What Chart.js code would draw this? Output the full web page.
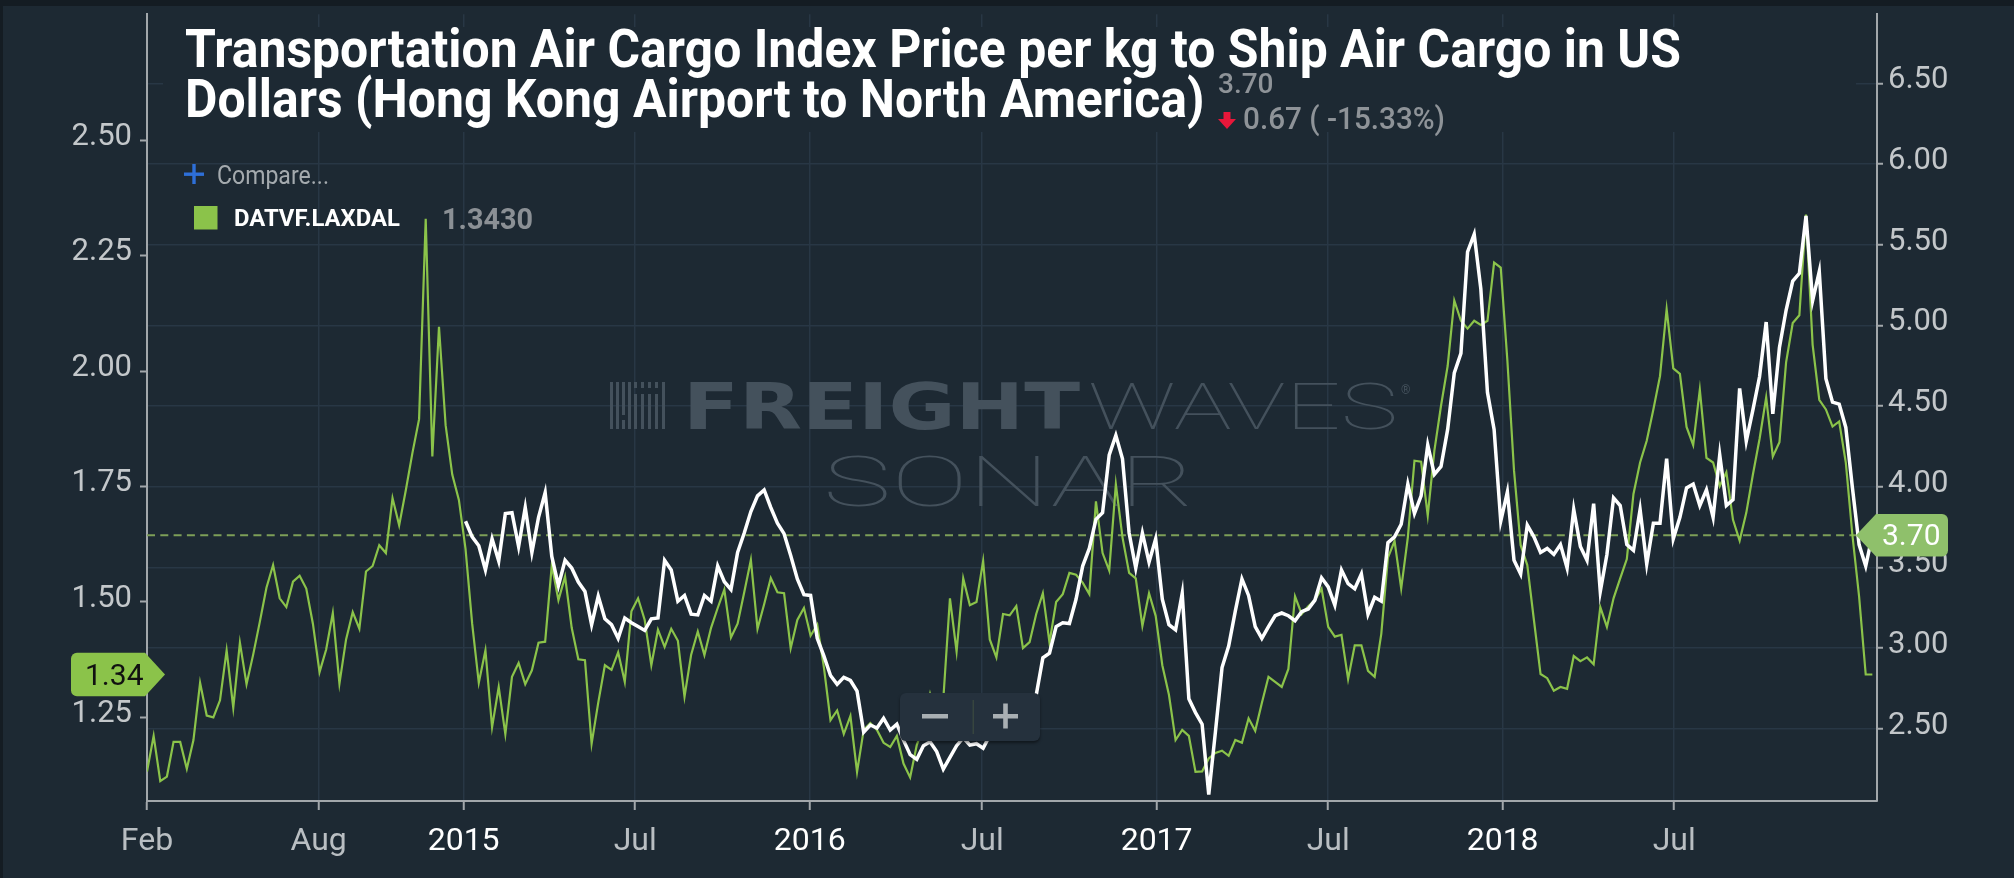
<!DOCTYPE html>
<html>
<head>
<meta charset="utf-8">
<title>Transportation Air Cargo Index</title>
<script src="https://cdn.jsdelivr.net/npm/chart.js"></script>
<style>
  html, body { margin: 0; padding: 0; background: #1d2933; }
  #chart { display: block; }
</style>
</head>
<body>
<canvas id="chart" width="2014" height="878"></canvas>
<script>
// weekly series, first value on the start date
const greenStart = '2014-02-01';
const whiteStart = '2015-01-03';

// DATVF.LAXDAL (left axis)
const green = [
  1.133, 1.210, 1.112, 1.122, 1.197, 1.197, 1.139, 1.201, 1.325, 1.254,
  1.250, 1.287, 1.395, 1.271, 1.412, 1.322, 1.386, 1.457, 1.531, 1.580,
  1.508, 1.489, 1.544, 1.557, 1.529, 1.453, 1.348, 1.397, 1.476, 1.323,
  1.419, 1.478, 1.442, 1.566, 1.578, 1.623, 1.606, 1.725, 1.666, 1.742,
  1.823, 1.896, 2.330, 1.815, 2.096, 1.883, 1.776, 1.721, 1.615, 1.453,
  1.325, 1.395, 1.229, 1.316, 1.214, 1.338, 1.368, 1.322, 1.352, 1.412,
  1.414, 1.580, 1.504, 1.555, 1.444, 1.376, 1.374, 1.193, 1.282, 1.363,
  1.353, 1.391, 1.327, 1.480, 1.508, 1.461, 1.363, 1.440, 1.403, 1.442,
  1.416, 1.295, 1.386, 1.436, 1.385, 1.444, 1.487, 1.527, 1.423, 1.453,
  1.521, 1.591, 1.442, 1.495, 1.552, 1.521, 1.519, 1.400, 1.461, 1.487,
  1.427, 1.451, 1.359, 1.244, 1.265, 1.214, 1.253, 1.132, 1.223, 1.238,
  1.223, 1.195, 1.186, 1.210, 1.150, 1.120, 1.190, 1.230, 1.300, 1.240,
  1.290, 1.508, 1.393, 1.551, 1.493, 1.500, 1.589, 1.419, 1.380, 1.474,
  1.471, 1.491, 1.400, 1.413, 1.474, 1.519, 1.412, 1.500, 1.517, 1.563,
  1.559, 1.542, 1.517, 1.718, 1.606, 1.568, 1.755, 1.640, 1.563, 1.551,
  1.448, 1.519, 1.470, 1.363, 1.299, 1.201, 1.223, 1.210, 1.132, 1.133,
  1.161, 1.173, 1.178, 1.167, 1.201, 1.195, 1.248, 1.221, 1.281, 1.338,
  1.327, 1.316, 1.355, 1.512, 1.474, 1.491, 1.504, 1.529, 1.446, 1.425,
  1.429, 1.333, 1.406, 1.406, 1.351, 1.338, 1.431, 1.596, 1.632, 1.529,
  1.640, 1.806, 1.804, 1.687, 1.828, 1.925, 2.011, 2.153, 2.109, 2.092,
  2.109, 2.100, 2.109, 2.235, 2.224, 2.023, 1.785, 1.623, 1.580, 1.461,
  1.344, 1.335, 1.308, 1.316, 1.312, 1.383, 1.372, 1.380, 1.365, 1.489,
  1.446, 1.508, 1.551, 1.593, 1.734, 1.802, 1.849, 1.917, 1.989, 2.134,
  2.006, 1.994, 1.879, 1.840, 1.960, 1.812, 1.802, 1.751, 1.781, 1.678,
  1.633, 1.693, 1.776, 1.853, 1.943, 1.815, 1.846, 2.019, 2.104, 2.121,
  2.339, 2.057, 1.938, 1.917, 1.880, 1.891, 1.802, 1.644, 1.512, 1.343,
  1.343
];

// Air Cargo Index, HKG to North America (right axis)
const white = [
  3.787, 3.690, 3.635, 3.485, 3.678, 3.540, 3.835, 3.840, 3.630, 3.872,
  3.593, 3.811, 3.964, 3.569, 3.388, 3.545, 3.497, 3.410, 3.351, 3.146,
  3.322, 3.182, 3.146, 3.061, 3.187, 3.158, 3.134, 3.110, 3.182, 3.187,
  3.545, 3.485, 3.291, 3.327, 3.211, 3.206, 3.327, 3.291, 3.509, 3.412,
  3.364, 3.593, 3.714, 3.847, 3.944, 3.981, 3.872, 3.775, 3.710, 3.574,
  3.429, 3.332, 3.327, 3.061, 2.952, 2.831, 2.776, 2.819, 2.800, 2.734,
  2.480, 2.524, 2.505, 2.565, 2.493, 2.529, 2.430, 2.340, 2.311, 2.396,
  2.420, 2.359, 2.251, 2.323, 2.396, 2.444, 2.400, 2.408, 2.380, 2.460,
  2.520, 2.550, 2.600, 2.630, 2.660, 2.700, 2.710, 2.940, 2.969, 3.134,
  3.158, 3.153, 3.303, 3.509, 3.618, 3.799, 3.840, 4.198, 4.319, 4.174,
  3.714, 3.497, 3.714, 3.533, 3.678, 3.303, 3.146, 3.114, 3.339, 2.686,
  2.601, 2.529, 2.093, 2.480, 2.880, 3.013, 3.230, 3.429, 3.327, 3.134,
  3.061, 3.134, 3.201, 3.218, 3.201, 3.170, 3.226, 3.243, 3.298, 3.436,
  3.380, 3.267, 3.485, 3.400, 3.368, 3.460, 3.211, 3.315, 3.291, 3.654,
  3.690, 3.768, 4.017, 3.835, 3.944, 4.259, 4.077, 4.126, 4.356, 4.706,
  4.827, 5.456, 5.565, 5.227, 4.585, 4.356, 3.787, 3.968, 3.545, 3.460,
  3.763, 3.690, 3.593, 3.618, 3.581, 3.642, 3.497, 3.860, 3.630, 3.545,
  3.896, 3.351, 3.581, 3.932, 3.884, 3.642, 3.606, 3.860, 3.521, 3.775,
  3.775, 4.174, 3.678, 3.811, 3.993, 4.017, 3.884, 3.981, 3.811, 4.198,
  3.884, 3.920, 4.610, 4.283, 4.477, 4.682, 5.021, 4.452, 4.864, 5.094,
  5.275, 5.323, 5.679, 5.154, 5.335, 4.670, 4.525, 4.513, 4.368, 3.993,
  3.642, 3.509, 3.700
];

const tickDates = ['2014-02-01', '2014-08-01', '2015-01-01', '2015-07-01', '2016-01-01',
  '2016-07-01', '2017-01-01', '2017-07-01', '2018-01-01', '2018-07-01'];
const tickLabels = ['Feb', 'Aug', '2015', 'Jul', '2016', 'Jul', '2017', 'Jul', '2018', 'Jul'];
const leftTicks = [1.25, 1.50, 1.75, 2.00, 2.25, 2.50];
const rightTicks = [2.50, 3.00, 3.50, 4.00, 4.50, 5.00, 5.50, 6.00, 6.50];

const title = ['Transportation Air Cargo Index Price per kg to Ship Air Cargo in US',
  'Dollars (Hong Kong Airport to North America)'];
const changeText = '0.67 ( -15.33%)';
const seriesName = 'DATVF.LAXDAL';

const bg = '#1d2933';
const gridColor = '#283745';
const axisColor = '#a2a7ab';
const greenColor = '#8bc34a';

const DAY = 86400000;
function week(date) {
  return (Date.parse(date) - Date.parse(greenStart)) / (7 * DAY);
}

function fitText(ctx, text, x, y, width) {
  const w = ctx.measureText(text).width;
  ctx.save();
  ctx.translate(x, y);
  ctx.scale(width / w, 1);
  ctx.fillText(text, 0, 0);
  ctx.restore();
}

function roundRect(ctx, x, y, w, h, r) {
  ctx.beginPath();
  ctx.moveTo(x + r, y);
  ctx.arcTo(x + w, y, x + w, y + h, r);
  ctx.arcTo(x + w, y + h, x, y + h, r);
  ctx.arcTo(x, y + h, x, y, r);
  ctx.arcTo(x, y, x + w, y, r);
  ctx.closePath();
}

const decor = {
  id: 'decor',
  beforeDraw(chart) {
    const ctx = chart.ctx;
    ctx.save();
    ctx.fillStyle = bg;
    ctx.fillRect(0, 0, chart.width, chart.height);
    ctx.fillStyle = '#141c23';
    ctx.fillRect(0, 0, chart.width, 6);
    ctx.fillRect(0, 0, 3, chart.height);
    ctx.restore();
  },
  beforeDatasetsDraw(chart) {
    const ctx = chart.ctx;
    const area = chart.chartArea;
    ctx.save();
    // title background hides the grid behind it
    ctx.fillStyle = bg;
    ctx.fillRect(163, 27, 1693, 105);

    // watermark
    ctx.fillStyle = '#44515c';
    const bars = [[610, 382, 429], [616, 382, 429], [622, 382, 415], [622, 420, 429], [628, 382, 429],
      [634, 382, 388], [634, 394, 429], [641, 382, 388], [641, 394, 429],
      [648, 382, 388], [648, 394, 429], [655, 382, 388], [655, 394, 429], [662, 382, 429]];
    bars.forEach(b => ctx.fillRect(b[0], b[1], 3, b[2] - b[1]));
    ctx.textBaseline = 'alphabetic';
    ctx.font = 'bold 64px "DejaVu Sans"';
    fitText(ctx, 'FREIGHT', 683, 429, 397);
    ctx.font = '100 65px Roboto';
    fitText(ctx, 'WAVES', 1088, 429, 310);
    ctx.font = '100 71px Roboto';
    fitText(ctx, 'SONAR', 823, 506, 372);
    ctx.font = '12px Roboto';
    ctx.fillText('®', 1401, 394);

    // last value line of the index
    const yLast = chart.scales.yR.getPixelForValue(white[white.length - 1]);
    ctx.strokeStyle = '#7d9f58';
    ctx.lineWidth = 2;
    ctx.setLineDash([8, 5.3]);
    ctx.beginPath();
    ctx.moveTo(area.left, yLast);
    ctx.lineTo(area.right - 20, yLast);
    ctx.stroke();
    ctx.restore();
  },
  afterDraw(chart) {
    const ctx = chart.ctx;
    const area = chart.chartArea;
    const lastGreen = green[green.length - 1];
    const lastWhite = white[white.length - 1];
    ctx.save();

    // left tag
    let y = chart.scales.yL.getPixelForValue(lastGreen);
    ctx.fillStyle = greenColor;
    ctx.beginPath();
    ctx.moveTo(area.left - 2, y - 21.7);
    ctx.lineTo(area.left + 18, y);
    ctx.lineTo(area.left - 2, y + 21.7);
    ctx.lineTo(77, y + 21.7);
    ctx.arcTo(71, y + 21.7, 71, y + 15, 6);
    ctx.lineTo(71, y - 15);
    ctx.arcTo(71, y - 21.7, 77, y - 21.7, 6);
    ctx.closePath();
    ctx.fill();
    ctx.fillStyle = '#111111';
    ctx.font = '30px Roboto';
    ctx.fillText(lastGreen.toFixed(2), 85, y + 10.5);

    // right tag
    y = chart.scales.yR.getPixelForValue(lastWhite);
    ctx.fillStyle = '#8fc06b';
    ctx.beginPath();
    ctx.moveTo(area.right - 21, y);
    ctx.lineTo(area.right - 1, y - 21.3);
    ctx.lineTo(1942, y - 21.3);
    ctx.arcTo(1948, y - 21.3, 1948, y - 15, 6);
    ctx.lineTo(1948, y + 15);
    ctx.arcTo(1948, y + 21.3, 1942, y + 21.3, 6);
    ctx.lineTo(area.right - 1, y + 21.3);
    ctx.closePath();
    ctx.fill();
    ctx.fillStyle = '#ffffff';
    ctx.font = '30px Roboto';
    ctx.fillText(lastWhite.toFixed(2), 1882, y + 10);

    // title
    ctx.fillStyle = '#ffffff';
    ctx.font = 'bold 54px Roboto';
    const k = 1496 / ctx.measureText(title[0]).width;
    [67, 117].forEach((base, i) => {
      ctx.save();
      ctx.translate(185, base);
      ctx.scale(k, 1);
      ctx.fillText(title[i], 0, 0);
      ctx.restore();
    });

    // last value and change
    ctx.fillStyle = '#8e9398';
    ctx.font = '500 28px Roboto';
    ctx.fillText(lastWhite.toFixed(2), 1218, 93);
    ctx.font = '500 31px Roboto';
    fitText(ctx, changeText, 1243, 129, 202);
    ctx.fillStyle = '#e8173a';
    ctx.beginPath();
    ctx.moveTo(1223.5, 112); ctx.lineTo(1230.5, 112); ctx.lineTo(1230.5, 119);
    ctx.lineTo(1236, 119); ctx.lineTo(1227, 129); ctx.lineTo(1218, 119);
    ctx.lineTo(1223.5, 119);
    ctx.closePath();
    ctx.fill();

    // compare and legend
    ctx.fillStyle = '#2e6fd8';
    ctx.fillRect(184, 172.5, 20, 3.4);
    ctx.fillRect(192.3, 164, 3.4, 20);
    ctx.fillStyle = '#a4aaae';
    ctx.font = '25px Roboto';
    fitText(ctx, 'Compare...', 217, 184, 112);
    ctx.fillStyle = greenColor;
    ctx.fillRect(194, 206, 23.5, 23.5);
    ctx.fillStyle = '#ffffff';
    ctx.font = 'bold 23px Roboto';
    fitText(ctx, seriesName, 234, 225.5, 166);
    ctx.fillStyle = '#8b9095';
    ctx.font = 'bold 30px Roboto';
    fitText(ctx, lastGreen.toFixed(4), 442, 228.5, 91);

    // zoom buttons
    ctx.save();
    ctx.shadowColor = 'rgba(0,0,0,0.45)';
    ctx.shadowBlur = 3;
    ctx.shadowOffsetY = 2;
    ctx.fillStyle = '#25313d';
    roundRect(ctx, 900, 693, 140, 48, 6);
    ctx.fill();
    ctx.restore();
    ctx.fillStyle = '#a9afb3';
    ctx.fillRect(922, 714, 26, 4.5);
    ctx.fillRect(993, 714, 25, 4.5);
    ctx.fillRect(1003.2, 703.5, 4.6, 25);
    ctx.fillStyle = '#37453f';
    ctx.fillRect(972.5, 700, 1.5, 34);
    ctx.restore();
  }
};

function draw() {
  new Chart(document.getElementById('chart').getContext('2d'), {
    type: 'line',
    data: {
      datasets: [{
        label: 'TAC index',
        data: white.map((v, i) => ({ x: week(whiteStart) + i, y: v })),
        yAxisID: 'yR',
        borderColor: '#ffffff',
        borderWidth: 3.5,
        pointRadius: 0,
        tension: 0
      }, {
        label: seriesName,
        data: green.map((v, i) => ({ x: week(greenStart) + i, y: v })),
        yAxisID: 'yL',
        borderColor: greenColor,
        borderWidth: 2.2,
        pointRadius: 0,
        tension: 0
      }]
    },
    options: {
      responsive: false,
      devicePixelRatio: 1,
      animation: false,
      events: [],
      layout: { padding: { top: 8, left: 0, right: 0, bottom: 0 } },
      plugins: { legend: { display: false }, tooltip: { enabled: false }, title: { display: false } },
      scales: {
        x: {
          type: 'linear',
          min: 0,
          max: 260.7,
          afterBuildTicks: s => { s.ticks = tickDates.map(d => ({ value: week(d) })); },
          afterFit: s => { s.height = 77; },
          grid: { color: gridColor, lineWidth: 1.5, tickColor: axisColor, tickLength: 9, tickWidth: 2 },
          border: { color: axisColor, width: 2 },
          ticks: {
            autoSkip: false,
            maxRotation: 0,
            padding: 13,
            font: { family: 'Roboto', size: 32 },
            color: c => /^\d{4}$/.test(tickLabels[c.index]) ? '#ffffff' : '#b9bec2',
            callback: (v, i) => tickLabels[i]
          }
        },
        yL: {
          type: 'linear',
          position: 'left',
          min: 1.069,
          max: 2.773,
          afterBuildTicks: s => { s.ticks = leftTicks.map(v => ({ value: v })); },
          afterFit: s => { s.width = 147; },
          grid: { drawOnChartArea: false, color: axisColor, tickColor: axisColor, tickLength: 7, tickWidth: 2 },
          border: { color: axisColor, width: 2 },
          ticks: {
            padding: 8,
            labelOffset: -3,
            font: { family: 'Roboto', size: 31, lineHeight: 0.4 },
            color: '#c3c7ca',
            callback: v => v.toFixed(2)
          }
        },
        yR: {
          type: 'linear',
          position: 'right',
          min: 2.053,
          max: 6.929,
          afterBuildTicks: s => { s.ticks = rightTicks.map(v => ({ value: v })); },
          afterFit: s => { s.width = 137; },
          grid: { color: gridColor, lineWidth: 1.5, tickColor: axisColor, tickLength: 6, tickWidth: 2 },
          border: { color: axisColor, width: 2 },
          ticks: {
            padding: 5,
            labelOffset: -3,
            font: { family: 'Roboto', size: 31, lineHeight: 0.4 },
            color: '#c3c7ca',
            callback: v => v.toFixed(2)
          }
        }
      }
    },
    plugins: [decor]
  });
}

const fonts = ['bold 54px Roboto', '500 28px Roboto', '31px Roboto', '100 65px Roboto', 'bold 64px "DejaVu Sans"'];
Promise.all(fonts.map(f => document.fonts.load(f))).then(draw, draw);
</script>
</body>
</html>
